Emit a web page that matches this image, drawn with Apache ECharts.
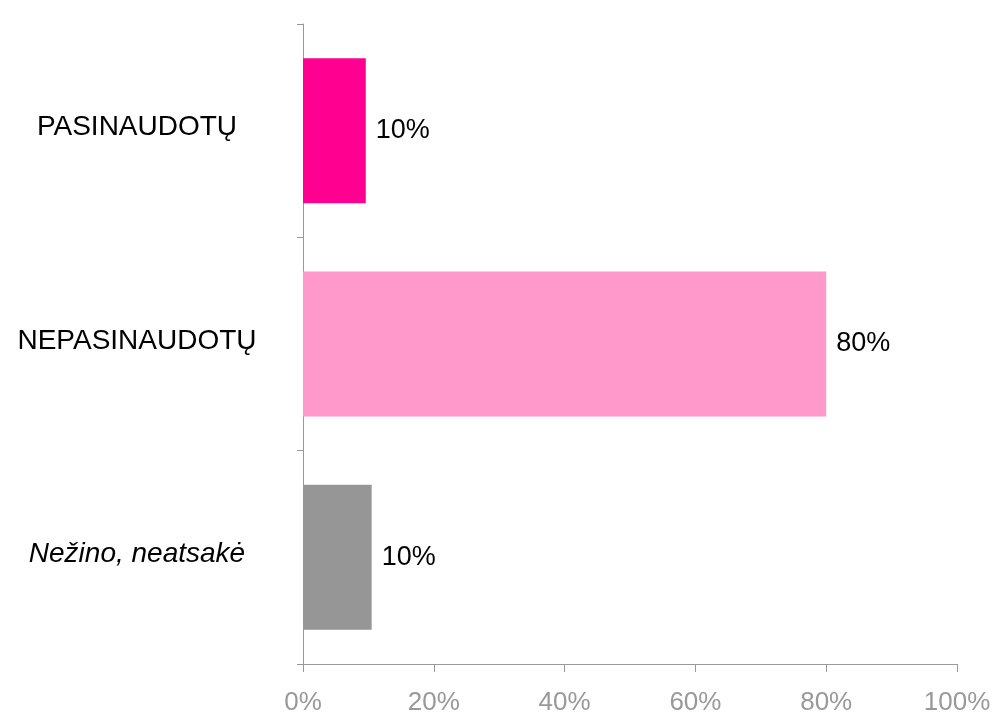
<!DOCTYPE html>
<html>
<head>
<meta charset="utf-8">
<script src="https://cdn.jsdelivr.net/npm/echarts@6/dist/echarts.min.js"></script>
<style>
  html, body { margin: 0; padding: 0; background: #fff; }
  #chart { width: 995px; height: 717px; }
</style>
</head>
<body>
<div id="chart"></div>
<script>
// categories top to bottom
const categories = ['PASINAUDOTŲ', 'NEPASINAUDOTŲ', 'Nežino, neatsakė']
const values = [9.6, 80.0, 10.5]
const barColors = ['#FF0090', '#FF99CC', '#969696']
const xTicks = [0, 20, 40, 60, 80, 100]

const chart = echarts.init(document.getElementById('chart'))
chart.setOption({
  animation: false,
  grid: { left: 303, right: 38, top: 24, bottom: 53 },
  xAxis: {
    type: 'value',
    min: xTicks[0],
    max: xTicks[xTicks.length - 1],
    interval: 20,
    splitLine: { show: false },
    axisLine: { show: true, lineStyle: { color: '#999999', width: 1 } },
    axisTick: { show: true, length: 8, lineStyle: { color: '#999999' } },
    axisLabel: {
      color: '#999999',
      fontSize: 26,
      fontFamily: 'Liberation Sans',
      margin: 26,
      formatter: v => v + '%'
    }
  },
  yAxis: {
    type: 'category',
    inverse: true,
    data: categories,
    axisLine: { show: true, lineStyle: { color: '#999999', width: 1 } },
    axisTick: { show: true, length: 6, lineStyle: { color: '#999999' } },
    axisLabel: {
      color: '#000000',
      fontSize: 28,
      fontFamily: 'Liberation Sans',
      align: 'center',
      margin: 166,
      padding: [0, 0, 6, 0],
      formatter: (v, i) => i === 2 ? '{it|' + v + '}' : v,
      rich: {
        it: { fontStyle: 'italic', fontSize: 28, fontFamily: 'Liberation Sans', color: '#000000' }
      }
    }
  },
  series: [{
    type: 'bar',
    barCategoryGap: '32%',
    data: values.map((v, i) => ({ value: v, itemStyle: { color: barColors[i] } })),
    label: {
      show: true,
      position: 'right',
      distance: 10,
      color: '#000000',
      fontSize: 27,
      fontFamily: 'Liberation Sans',
      formatter: p => Math.round(p.value / 10) * 10 + '%'
    }
  }]
})
</script>
</body>
</html>
